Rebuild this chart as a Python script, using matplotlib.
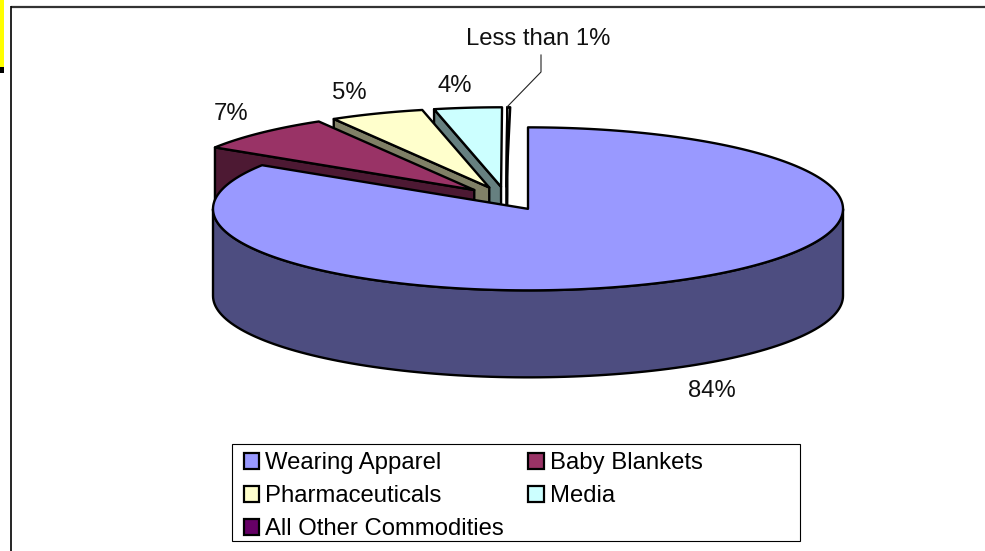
import numpy as np
import matplotlib
matplotlib.use("Agg")
import matplotlib.pyplot as plt
from matplotlib.patches import Polygon, Rectangle, Patch

categories = ["Wearing Apparel", "Baby Blankets", "Pharmaceuticals", "Media", "All Other Commodities"]
values = [84.0, 7.55, 4.95, 3.55, 0.15]
slice_labels = ["84%", "7%", "5%", "4%", "Less than 1%"]
top_colors = ["#9999FF", "#993366", "#FFFFCC", "#CCFFFF", "#FFFFFF"]
side_colors = ["#4D4D80", "#4D1933", "#808066", "#668080", "#FFFFFF"]
legend_colors = ["#9999FF", "#993366", "#FFFFCC", "#CCFFFF", "#660066"]

plt.rcParams["font.family"] = ["Liberation Sans", "DejaVu Sans"]
FS = 17.2
W, H = 985, 551
fig = plt.figure(figsize=(W / 100, H / 100), dpi=100)
ax = fig.add_axes([0, 0, 1, 1])
ax.set_xlim(0, W)
ax.set_ylim(H, 0)
ax.axis("off")

# page furniture
ax.add_patch(Rectangle((0, 0), 4, 67, fc="#FFFF00", ec="none"))
ax.add_patch(Rectangle((0, 67), 4, 6, fc="black", ec="none"))
ax.plot([W, 10.5], [6.5, 6.5], color="#333333", lw=1.6, solid_capstyle="butt")
ax.plot([10.5, 10.5], [6, H], color="black", lw=1.2, solid_capstyle="butt")

# pie geometry
CX, CY, RX, RY, DEPTH, EXPLODE, BACK = 506.0, 198.5, 315.0, 81.5, 87.0, 0.145, 0.975
LW = 1.7


def pt(ang, r=1.0, c=(0, 0)):
    a = np.radians(ang)
    return np.array([c[0] + RX * r * np.sin(a), c[1] - RY * r * np.cos(a)])


edges = np.concatenate([[0], np.cumsum(values) * 3.6])
spans = list(zip(edges[:-1], edges[1:]))


def slice_center(a0, a1):
    return pt((a0 + a1) / 2, EXPLODE, (CX, CY))


# back slices, far to near: each one's top face overlaps the cut face of the one behind it
for i in range(len(values) - 1, 0, -1):
    a0, a1 = spans[i]
    c = slice_center(a0, a1)
    outer = pt(a0, BACK, c)
    face = [outer, c, c + [0, DEPTH], outer + [0, DEPTH]]
    ax.add_patch(Polygon(face, closed=True, fc=side_colors[i], ec="black", lw=LW, joinstyle="round"))
    arc = np.array([pt(t, BACK, c) for t in np.linspace(a0, a1, 40)])
    ax.add_patch(Polygon(np.vstack([[c], arc]), closed=True, fc=top_colors[i], ec="black", lw=LW, joinstyle="round"))

# main slice: outer wall, then top face
a0, a1 = spans[0]
c = slice_center(a0, a1)
wall_t = np.linspace(90, 270, 120)
top_arc = np.array([pt(t, 1, c) for t in wall_t])
ax.add_patch(Polygon(np.vstack([top_arc, (top_arc + [0, DEPTH])[::-1]]), closed=True,
                     fc=side_colors[0], ec="black", lw=LW, joinstyle="round"))
arc = np.array([pt(t, 1, c) for t in np.linspace(a0, a1, 240)])
ax.add_patch(Polygon(np.vstack([[c], arc]), closed=True, fc=top_colors[0], ec="black", lw=LW, joinstyle="round"))

# data labels
label_xy = [(712, 391), (231, 114), (349, 93), (455, 86), (538, 39)]
for s, (x, y) in zip(slice_labels, label_xy):
    ax.text(x, y, s, fontsize=FS, ha="center", va="center", color="#111111")
ax.plot([541, 541, 507], [55, 72, 107], color="#222222", lw=0.8)

# legend frame and contents (column-first fill, so entries are given column by column)
ax.add_patch(Rectangle((232, 444), 568, 97, fc="white", ec="black", lw=0.8, zorder=3))
order = [0, 2, 4, 1, 3]
handles = [Patch(fc=legend_colors[i], ec="black", lw=1.6, label=categories[i]) for i in order]
leg = ax.legend(handles=handles, ncol=2, fontsize=FS, loc="upper left", frameon=False,
                bbox_to_anchor=(232 / W, 1 - 440 / H), bbox_transform=ax.transAxes,
                borderaxespad=0, handlelength=0.65, handleheight=0.65, handletextpad=0.25,
                labelspacing=0.46, borderpad=0.5, columnspacing=1.0)
leg.set_zorder(4)

fig.savefig("out.png", dpi=100)
